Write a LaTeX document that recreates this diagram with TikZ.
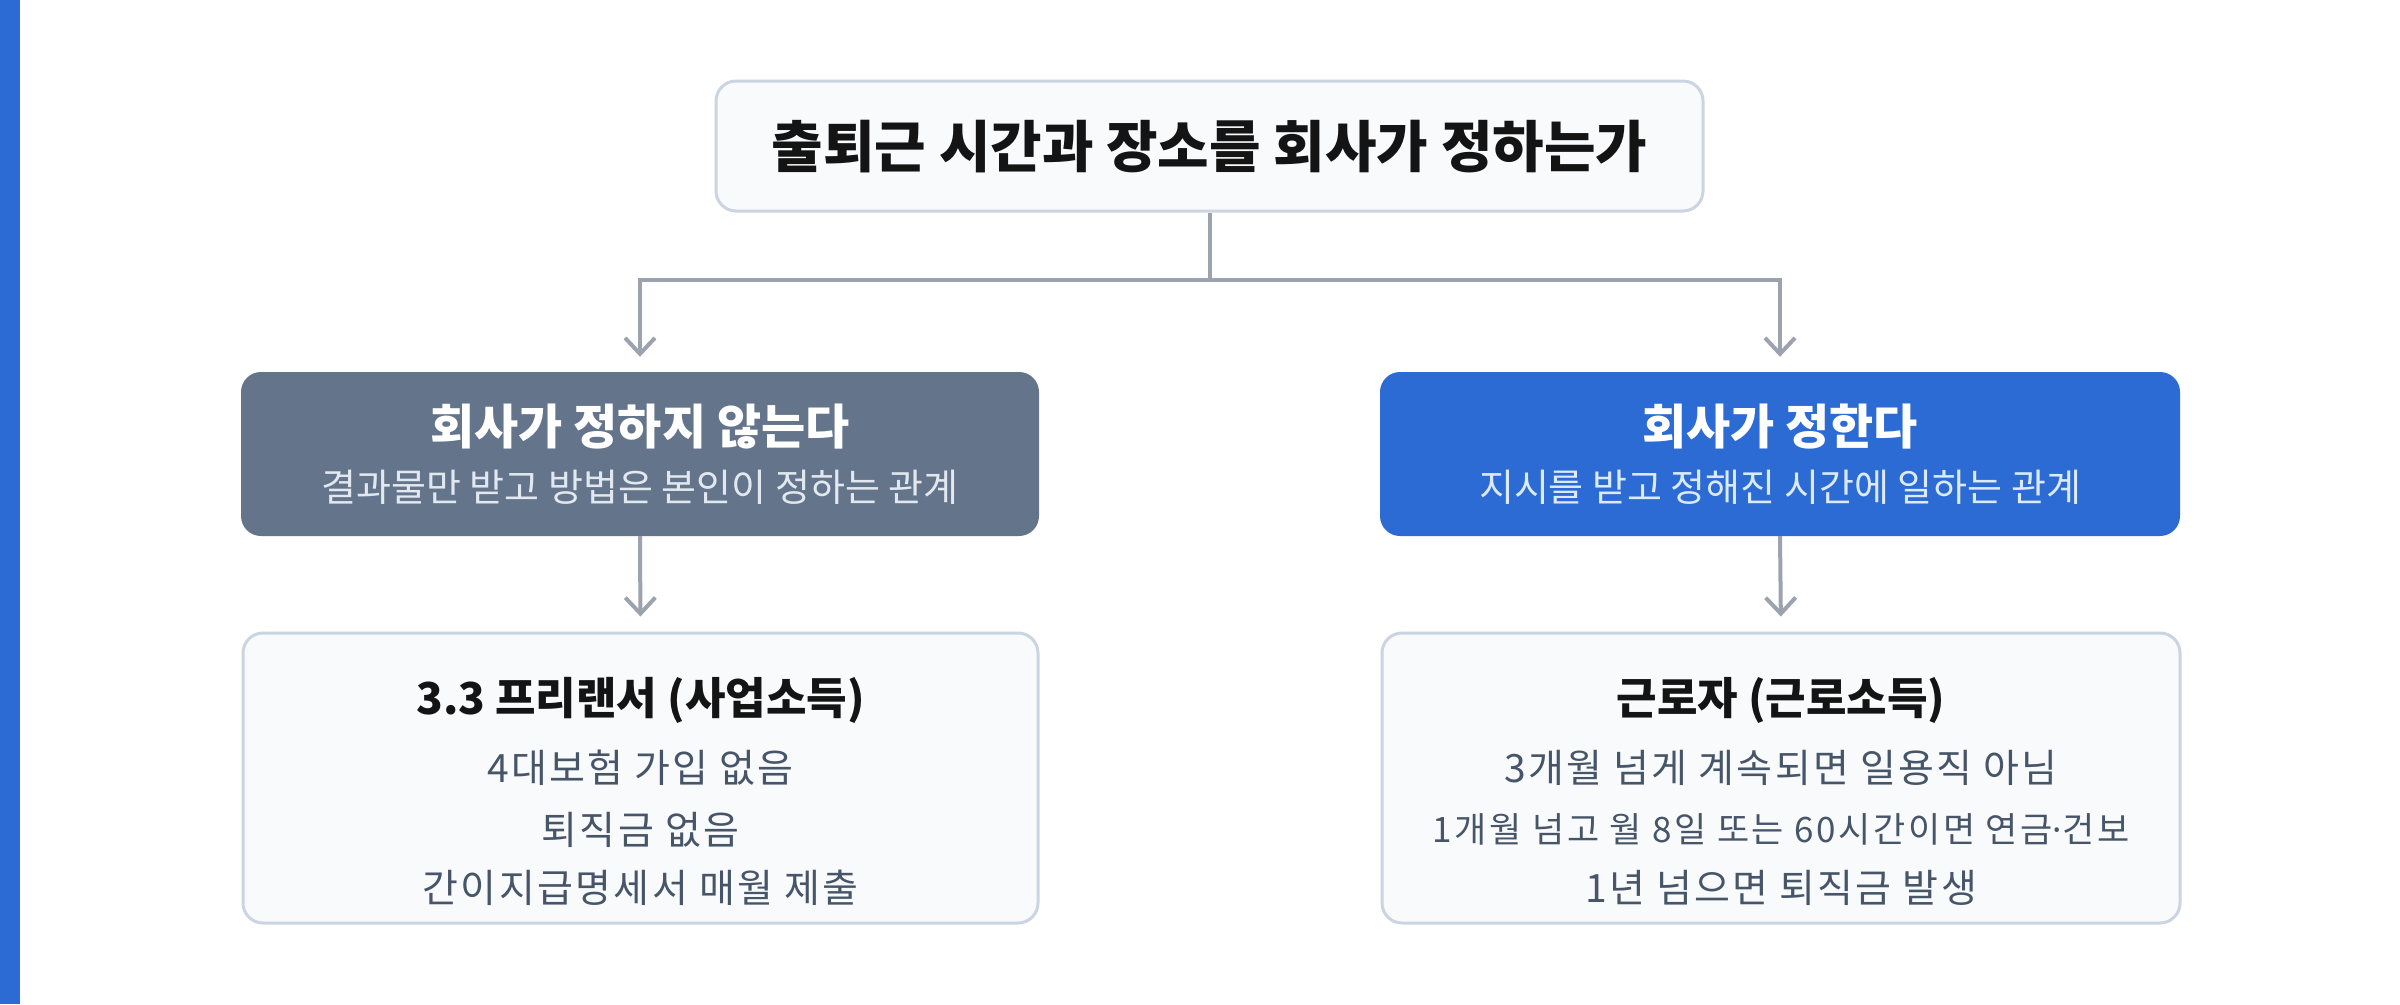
\documentclass[tikz,border=0pt]{standalone}
\usepackage{fontspec}
\setmainfont{Noto Sans CJK KR}
\newfontfamily\latinfont{Noto Sans}
\usetikzlibrary{arrows.meta}
\definecolor{accent}{HTML}{2C6BD3}
\definecolor{slatebox}{HTML}{64748B}
\definecolor{panelfill}{HTML}{F8FAFC}
\definecolor{panelline}{HTML}{CBD5E1}
\definecolor{connc}{HTML}{9CA3AF}
\definecolor{titlec}{HTML}{141414}
\definecolor{bodyc}{HTML}{475569}
\definecolor{subgray}{HTML}{E2E8F0}
\definecolor{subblue}{HTML}{DBEAFE}
\tikzset{
  panel/.style={draw=panelline, line width=3pt, fill=panelfill, rounded corners=20pt, inner sep=0pt},
  solidbox/.style={rounded corners=20pt, inner sep=0pt},
  conn/.style={draw=connc, line width=4pt},
  arr/.style={conn, -{Straight Barb[length=16pt,width=30pt,line width=4pt]}, shorten >=15pt},
  txt/.style={inner sep=0pt, anchor=center},
  bodytxt/.style={txt, text=bodyc, font=\fontsize{39}{46}\selectfont\addfontfeature{LetterSpace=6}},
}
\begin{document}
\begin{tikzpicture}[x=1pt,y=-1pt]
\useasboundingbox[fill=white] (0,0) rectangle (2400,1004);
\fill[accent] (0,0) rectangle (20,1004);

% boxes
\node[panel, minimum width=987pt, minimum height=130pt] (q) at (1209.5,146) {};
\node[solidbox, fill=slatebox, minimum width=798pt, minimum height=164pt] (l) at (640,454) {};
\node[solidbox, fill=accent, minimum width=800pt, minimum height=164pt] (r) at (1780,454) {};
\node[panel, minimum width=795pt, minimum height=290pt] (bl) at (640.5,778) {};
\node[panel, minimum width=798pt, minimum height=290pt] (br) at (1781,778) {};

% texts
\node[txt, font=\fontsize{56}{64}\bfseries\selectfont, text=titlec] (qt) at (1209.5,147) {출퇴근 시간과 장소를 회사가 정하는가};

\node[txt, font=\fontsize{48}{56}\bfseries\selectfont, text=white] (lt) at (640,427) {회사가 정하지 않는다};
\node[txt, font=\fontsize{38}{46}\selectfont, text=subgray] (ls) at (640,487) {결과물만 받고 방법은 본인이 정하는 관계};
\node[txt, font=\fontsize{48}{56}\bfseries\selectfont, text=white] (rt) at (1780,427) {회사가 정한다};
\node[txt, font=\fontsize{38}{46}\selectfont, text=subblue] (rs) at (1780,487) {지시를 받고 정해진 시간에 일하는 관계};

\node[txt, font=\fontsize{44}{52}\bfseries\selectfont, text=titlec] (blt) at (640.5,700) {3.3 프리랜서 (사업소득)};
\node[bodytxt] (bl1) at (640.5,768) {4대보험 가입 없음};
\node[bodytxt] (bl2) at (640.5,830) {퇴직금 없음};
\node[bodytxt] (bl3) at (640.5,888) {간이지급명세서 매월 제출};

\node[txt, font=\fontsize{44}{52}\bfseries\selectfont, text=titlec] (brt) at (1781,700) {근로자 (근로소득)};
\node[bodytxt] (br1) at (1781,768) {3개월 넘게 계속되면 일용직 아님};
\node[txt, text=bodyc, font=\fontsize{35}{40}\selectfont\addfontfeature{LetterSpace=7.5}] (br2) at (1781,829) {1개월 넘고 월 8일 또는 60시간이면 연금{\latinfont ·}건보};
\node[bodytxt] (br3) at (1781,888) {1년 넘으면 퇴직금 발생};

% connectors
\coordinate (split) at (1209.5,280);
\draw[conn] (q.south) -- (split);
\draw[arr] (split) -| (l.north);
\draw[arr] (split) -| (r.north);
\draw[arr] (l.south) -- (bl.north);
\draw[arr] (r.south) -- (br.north);
\end{tikzpicture}
\end{document}
